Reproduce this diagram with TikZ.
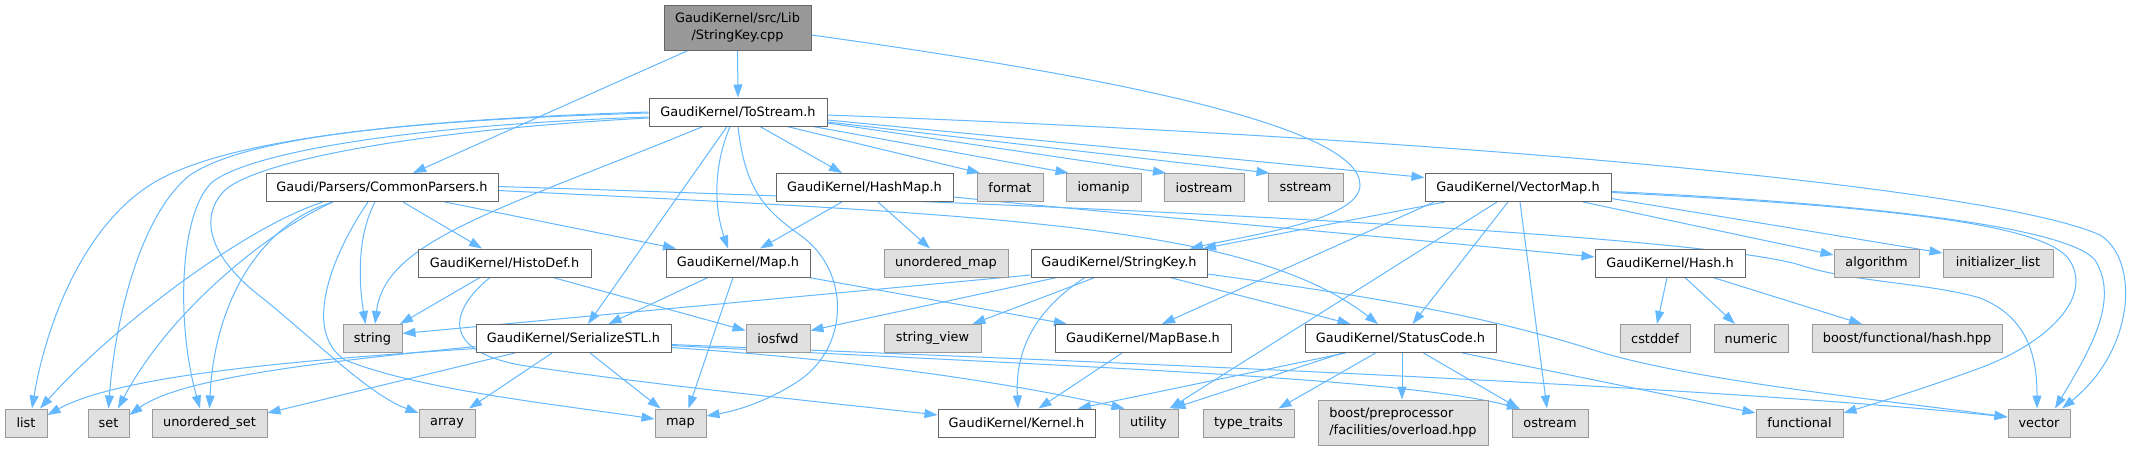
\documentclass[tikz,border=0pt]{standalone}
\usepackage{fontspec}
\setmainfont{DejaVu Sans}
\usetikzlibrary{arrows.meta}
\definecolor{edgec}{HTML}{63B8FF}
\definecolor{bdark}{HTML}{666666}
\definecolor{blight}{HTML}{999999}
\definecolor{fgray}{HTML}{E0E0E0}
\definecolor{froot}{HTML}{999999}
\pgfdeclarelayer{bg}
\pgfsetlayers{bg,main}
\tikzset{
 nb/.style={draw=bdark, fill=white, line width=1pt, inner sep=0pt, minimum height=28pt},
 gb/.style={draw=blight, fill=fgray, line width=1pt, inner sep=0pt, minimum height=28pt},
 rb/.style={draw=bdark, fill=froot, line width=1pt, inner sep=0pt, minimum height=45pt, align=center},
 e/.style={draw=edgec, line width=1pt, -{Triangle[length=13pt,width=9pt]}}
}
\begin{document}
\begin{tikzpicture}[x=1pt,y=-1pt,font=\fontsize{12.9pt}{17pt}\selectfont]
\path[use as bounding box] (0,0) rectangle (2131,451);
% nodes
\node[rb, minimum width=147pt] (cpp) at (737.5,27.5) {GaudiKernel/src/Lib\\/StringKey.cpp};
\node[nb, minimum width=178pt] (ts) at (738,112) {GaudiKernel/ToStream.h};
\node[nb, minimum width=232pt] (cp) at (382,187.5) {Gaudi/Parsers/CommonParsers.h};
\node[nb, minimum width=177pt] (hm) at (864.5,187.5) {GaudiKernel/HashMap.h};
\node[gb, minimum width=66pt] (format) at (1010,187.5) {format};
\node[gb, minimum width=75pt] (iomanip) at (1103.5,187.5) {iomanip};
\node[gb, minimum width=80pt] (iostream) at (1204,187.5) {iostream};
\node[gb, minimum width=75pt] (sstream) at (1305.5,187.5) {sstream};
\node[nb, minimum width=186pt] (vm) at (1518,187.5) {GaudiKernel/VectorMap.h};
\node[nb, minimum width=173pt] (hd) at (504.5,263) {GaudiKernel/HistoDef.h};
\node[nb, minimum width=144pt] (maph) at (738,263) {GaudiKernel/Map.h};
\node[gb, minimum width=124pt] (umap) at (946,263) {unordered\_map};
\node[nb, minimum width=176pt] (sk) at (1119,263) {GaudiKernel/StringKey.h};
\node[nb, minimum width=150pt] (hash) at (1670,263) {GaudiKernel/Hash.h};
\node[gb, minimum width=85pt] (algorithm) at (1876.5,263) {algorithm};
\node[gb, minimum width=110pt] (initlist) at (1998,263) {initializer\_list};
\node[gb, minimum width=59pt] (string) at (372.5,338.5) {string};
\node[nb, minimum width=195pt] (ser) at (573.5,338.5) {GaudiKernel/SerializeSTL.h};
\node[gb, minimum width=64pt] (iosfwd) at (778,338.5) {iosfwd};
\node[gb, minimum width=97pt] (sview) at (932.5,338.5) {string\_view};
\node[nb, minimum width=176pt] (mb) at (1143,338.5) {GaudiKernel/MapBase.h};
\node[nb, minimum width=191pt] (sc) at (1400.5,338.5) {GaudiKernel/StatusCode.h};
\node[gb, minimum width=70pt] (cstddef) at (1655,338.5) {cstddef};
\node[gb, minimum width=74pt] (numeric) at (1751,338.5) {numeric};
\node[gb, minimum width=190pt] (bfh) at (1907,338.5) {boost/functional/hash.hpp};
\node[gb, minimum width=42pt] (list) at (26,423) {list};
\node[gb, minimum width=41pt] (set) at (108.5,423) {set};
\node[gb, minimum width=115pt] (uset) at (209.5,423) {unordered\_set};
\node[gb, minimum width=56pt] (array) at (447,423) {array};
\node[gb, minimum width=51pt] (mapstd) at (680.5,423) {map};
\node[nb, minimum width=157pt] (kernel) at (1016.5,423) {GaudiKernel/Kernel.h};
\node[gb, minimum width=59pt] (utility) at (1148.5,423) {utility};
\node[gb, minimum width=91pt] (ttraits) at (1248.5,423) {type\_traits};
\node[gb, minimum width=170pt, minimum height=45pt, align=left] (bpp) at (1403,422.5) {boost/preprocessor\\/facilities/overload.hpp};
\node[gb, minimum width=76pt] (ostream) at (1550,423) {ostream};
\node[gb, minimum width=87pt] (functional) at (1799.5,423) {functional};
\node[gb, minimum width=62pt] (vector) at (2039,423) {vector};
\begin{pgfonlayer}{bg}
\fill[white] (0,0) rectangle (2131,451);
% cpp
\draw[e] (cpp.south) -- (ts.north);
\draw[e] ([xshift=-49.5pt]cpp.south) -- ([xshift=31pt]cp.north);
\draw[e] ([yshift=-7.5pt]cpp.east) .. controls (1100,75) and (1360,125) .. (1360,185) .. controls (1360,220) and (1250,235) .. ([xshift=71pt]sk.north);
% ts
\draw[e] ([xshift=22pt]ts.south) -- ([xshift=-22.5pt]hm.north);
\draw[e] ([xshift=49pt]ts.south) -- ([xshift=-30pt]format.north);
\draw[e] ([xshift=75pt]ts.south) -- ([xshift=-35pt]iomanip.north);
\draw[e] ([yshift=-11pt]ts.east) -- ([xshift=-38pt]iostream.north);
\draw[e] ([yshift=-10pt]ts.east) -- ([xshift=-36pt]sstream.north);
\draw[e] ([yshift=-8pt]ts.east) -- ([yshift=10pt]vm.west);
\draw[e] ([yshift=-3pt]ts.east) .. controls (1500,140) and (2000,190) .. (2100,235) .. controls (2140,260) and (2135,350) .. ([xshift=23pt]vector.north);
\draw[e] (ts.west) .. controls (400,120) and (220,140) .. (150,185) .. controls (80,230) and (45,330) .. ([xshift=6pt]list.north);
\draw[e] ([yshift=-1pt]ts.west) .. controls (420,120) and (250,135) .. (190,175) .. controls (140,215) and (115,320) .. (set.north);
\draw[e] ([yshift=-5pt]ts.west) .. controls (420,125) and (260,150) .. (215,180) .. controls (180,205) and (175,320) .. ([xshift=-9.5pt]uset.north);
\draw[e] ([yshift=-6pt]ts.west) .. controls (420,130) and (260,160) .. (225,190) .. controls (200,215) and (205,255) .. (265,300) .. controls (320,345) and (370,395) .. ([yshift=10pt]array.west);
\draw[e] ([xshift=-35pt]ts.south) .. controls (500,210) and (385,240) .. ([xshift=2.5pt]string.north);
\draw[e] ([xshift=-11pt]ts.south) -- ([xshift=14.5pt]ser.north);
\draw[e] ([xshift=-8pt]ts.south) .. controls (712,170) and (715,210) .. ([xshift=-10pt]maph.north);
\draw[e] (ts.south) .. controls (745,190) and (765,210) .. (800,235) .. controls (850,270) and (850,345) .. (800,380) .. controls (770,400) and (740,410) .. ([yshift=7pt]mapstd.east);
% cp
\draw[e] ([xshift=-59pt]cp.south) .. controls (250,225) and (120,320) .. ([xshift=14pt]list.north);
\draw[e] ([xshift=-49pt]cp.south) .. controls (270,230) and (170,310) .. ([xshift=9.5pt]set.north);
\draw[e] ([xshift=-49pt]cp.south) .. controls (270,220) and (215,290) .. (uset.north);
\draw[e] ([xshift=-7pt]cp.south) .. controls (355,240) and (360,290) .. ([xshift=-7pt]string.north);
\draw[e] ([xshift=-14pt]cp.south) .. controls (335,250) and (300,330) .. (345,360) .. controls (420,390) and (560,405) .. ([yshift=4pt]mapstd.west);
\draw[e] ([xshift=21pt]cp.south) -- ([xshift=-22.5pt]hd.north);
\draw[e] ([xshift=63pt]cp.south) -- ([xshift=-62pt]maph.north);
\draw[e] ([yshift=-3pt]cp.east) .. controls (1000,215) and (1250,225) .. ([xshift=-22.5pt]sc.north);
\draw[e] ([yshift=1pt]cp.east) .. controls (1100,205) and (1700,235) .. (1800,265) .. controls (1850,282) and (1930,283) .. (1980,298) .. controls (2030,318) and (2037,360) .. ([xshift=-2pt]vector.north);
% hm
\draw[e] ([xshift=-22.5pt]hm.south) -- ([xshift=22pt]maph.north);
\draw[e] ([xshift=13.5pt]hm.south) -- ([xshift=-16pt]umap.north);
\draw[e] ([yshift=-9.5pt]hm.east) .. controls (1100,212) and (1400,238) .. ([yshift=6pt]hash.west);
% hd
\draw[e] ([xshift=-24.5pt]hd.south) -- ([xshift=27.5pt]string.north);
\draw[e] ([xshift=48.5pt]hd.south) -- ([yshift=8pt]iosfwd.west);
\draw[e] ([xshift=-14.5pt]hd.south) .. controls (450,310) and (440,350) .. (520,365) .. controls (650,385) and (850,405) .. ([yshift=8pt]kernel.west);
% maph
\draw[e] ([xshift=-5pt]maph.south) -- ([xshift=8pt]mapstd.north);
\draw[e] ([xshift=-30pt]maph.south) -- ([xshift=35pt]ser.north);
\draw[e] ([xshift=71pt]maph.south) -- ([xshift=-76pt]mb.north);
% ser
\draw[e] ([yshift=-10pt]ser.west) .. controls (300,360) and (120,375) .. ([yshift=8pt]list.east);
\draw[e] ([yshift=-8pt]ser.west) .. controls (320,362) and (180,378) .. ([yshift=8pt]set.east);
\draw[e] ([xshift=-58.5pt]ser.south) -- ([yshift=10pt]uset.east);
\draw[e] ([xshift=-21.5pt]ser.south) -- ([xshift=22pt]array.north);
\draw[e] ([xshift=16.5pt]ser.south) -- ([xshift=-20pt]mapstd.north);
\draw[e] ([yshift=-9pt]ser.east) .. controls (780,355) and (950,370) .. ([xshift=-24pt]utility.north);
\draw[e] ([yshift=-6pt]ser.east) .. controls (1100,362) and (1700,385) .. ([yshift=6pt]vector.west);
\draw[e] ([yshift=-7pt]ser.east) .. controls (1100,368) and (1400,378) .. ([xshift=-30pt]ostream.north);
% sk
\draw[e] ([yshift=-12pt]sk.west) -- ([yshift=5pt]string.east);
\draw[e] ([xshift=-62pt]sk.south) -- ([yshift=8pt]iosfwd.east);
\draw[e] ([xshift=-24pt]sk.south) -- ([xshift=40pt]sview.north);
\draw[e] ([xshift=-34pt]sk.south) .. controls (1035,310) and (1015,350) .. ([xshift=1.5pt]kernel.north);
\draw[e] ([xshift=51pt]sk.south) -- ([xshift=-50pt]sc.north);
\draw[e] ([yshift=-11pt]sk.east) .. controls (1400,300) and (1500,320) .. (1600,352) .. controls (1700,382) and (1900,402) .. ([yshift=6pt]vector.west);
% vm
\draw[e] ([xshift=-73pt]vm.south) -- ([xshift=84pt]sk.north);
\draw[e] ([xshift=-84pt]vm.south) -- ([xshift=19pt]mb.north);
\draw[e] ([xshift=-10pt]vm.south) -- ([xshift=12pt]sc.north);
\draw[e] ([xshift=-21pt]vm.south) -- ([xshift=21pt]utility.north);
\draw[e] ([xshift=2pt]vm.south) -- ([xshift=-3pt]ostream.north);
\draw[e] ([xshift=65pt]vm.south) -- ([yshift=8pt]algorithm.west);
\draw[e] ([yshift=-11pt]vm.east) -- ([yshift=10pt]initlist.west);
\draw[e] ([yshift=-4pt]vm.east) .. controls (1900,205) and (2070,230) .. (2095,260) .. controls (2120,300) and (2090,350) .. ([xshift=16pt]vector.north);
\draw[e] ([yshift=-5pt]vm.east) .. controls (1900,207) and (2040,225) .. (2068,258) .. controls (2095,295) and (2050,342) .. (1980,368) .. controls (1920,390) and (1870,405) .. ([yshift=10pt]functional.east);
% hash
\draw[e] ([xshift=-3pt]hash.south) -- ([xshift=2pt]cstddef.north);
\draw[e] ([xshift=15pt]hash.south) -- ([xshift=-16pt]numeric.north);
\draw[e] ([xshift=43pt]hash.south) -- ([xshift=-45pt]bfh.north);
% sc
\draw[e] ([xshift=-55pt]sc.south) -- ([xshift=61.5pt]kernel.north);
\draw[e] ([xshift=-58pt]sc.south) -- ([xshift=24pt]utility.north);
\draw[e] ([xshift=-25pt]sc.south) -- ([xshift=30pt]ttraits.north);
\draw[e] ([xshift=1.5pt]sc.south) -- ([xshift=-1pt]bpp.north);
\draw[e] ([xshift=23pt]sc.south) -- ([xshift=-31pt]ostream.north);
\draw[e] ([xshift=62pt]sc.south) -- ([yshift=10pt]functional.west);
% mb
\draw[e] ([xshift=-21pt]mb.south) -- ([xshift=22pt]kernel.north);
\end{pgfonlayer}
\end{tikzpicture}
\end{document}
